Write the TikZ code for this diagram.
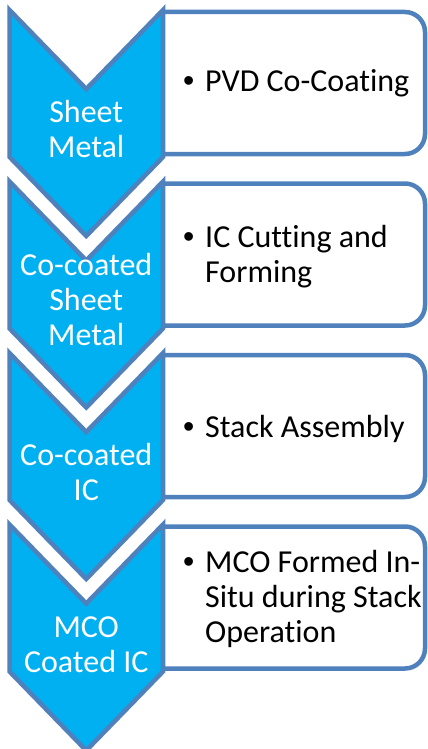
\documentclass[tikz,border=0pt]{standalone}
\usepackage{fontspec}
\setmainfont[Ligatures=NoCommon]{Carlito}
\newfontfamily\bulletfont{Liberation Sans}
\definecolor{edgeblue}{RGB}{79,129,189}
\definecolor{chevfill}{RGB}{0,176,240}
\newcommand\stepbullet{\makebox[22pt][l]{\bulletfont •}}
\begin{document}
\begin{tikzpicture}[x=1pt,y=-1pt,
  chev/.style={draw=edgeblue,fill=chevfill,line width=4.5pt,line join=miter},
  stepbox/.style={draw=edgeblue,fill=white,line width=4.5pt,line join=miter},
  label/.style={inner sep=0pt,text=white,anchor=base,font=\fontsize{32}{35}\selectfont},
  item/.style={inner sep=0pt,text=black,anchor=base west,font=\fontsize{32}{35}\selectfont}]
\useasboundingbox (0,0) rectangle (428,749);
% chevrons and the rounded step boxes beside them
\foreach \k in {0,1,2,3}{
  \pgfmathsetmacro{\T}{10+171.5*\k}
  \pgfmathsetmacro{\B}{12+171.5*\k}
  \draw[chev] (9.5,\T) -- (86.25,\T+79) -- (163,\T) -- (163,\T+147)
     -- (86.25,\T+226) -- (9.5,\T+147) -- cycle;
  \draw[stepbox] (163,\B) -- (405,\B) arc[start angle=-90,end angle=0,radius=20]
     -- (425,\B+122) arc[start angle=0,end angle=90,radius=20]
     -- (163,\B+142) -- cycle;
}
% chevron captions
\node[label] (c1) at (86.25,123) {\begin{tabular}[t]{@{}c@{}}Sheet\\Metal\end{tabular}};
\node[label] (c2) at (86.25,275) {\begin{tabular}[t]{@{}c@{}}Co-coated\\Sheet\\Metal\end{tabular}};
\node[label] (c3) at (86.25,465) {\begin{tabular}[t]{@{}c@{}}Co-coated\\IC\end{tabular}};
\node[label] (c4) at (86.25,637) {\begin{tabular}[t]{@{}c@{}}MCO\\Coated IC\end{tabular}};
% bulleted step descriptions
\node[item] (s1) at (183,92) {\begin{tabular}[t]{@{}l@{}l@{}}\stepbullet&PVD Co-Coating\end{tabular}};
\node[item] (s2) at (183,247) {\begin{tabular}[t]{@{}l@{}l@{}}\stepbullet&IC Cutting and\\&Forming\end{tabular}};
\node[item] (s3) at (183,437) {\begin{tabular}[t]{@{}l@{}l@{}}\stepbullet&Stack Assembly\end{tabular}};
\node[item] (s4) at (183,572) {\begin{tabular}[t]{@{}l@{}l@{}}\stepbullet&MCO Formed In-\\&Situ during Stack\\&Operation\end{tabular}};
\end{tikzpicture}
\end{document}
